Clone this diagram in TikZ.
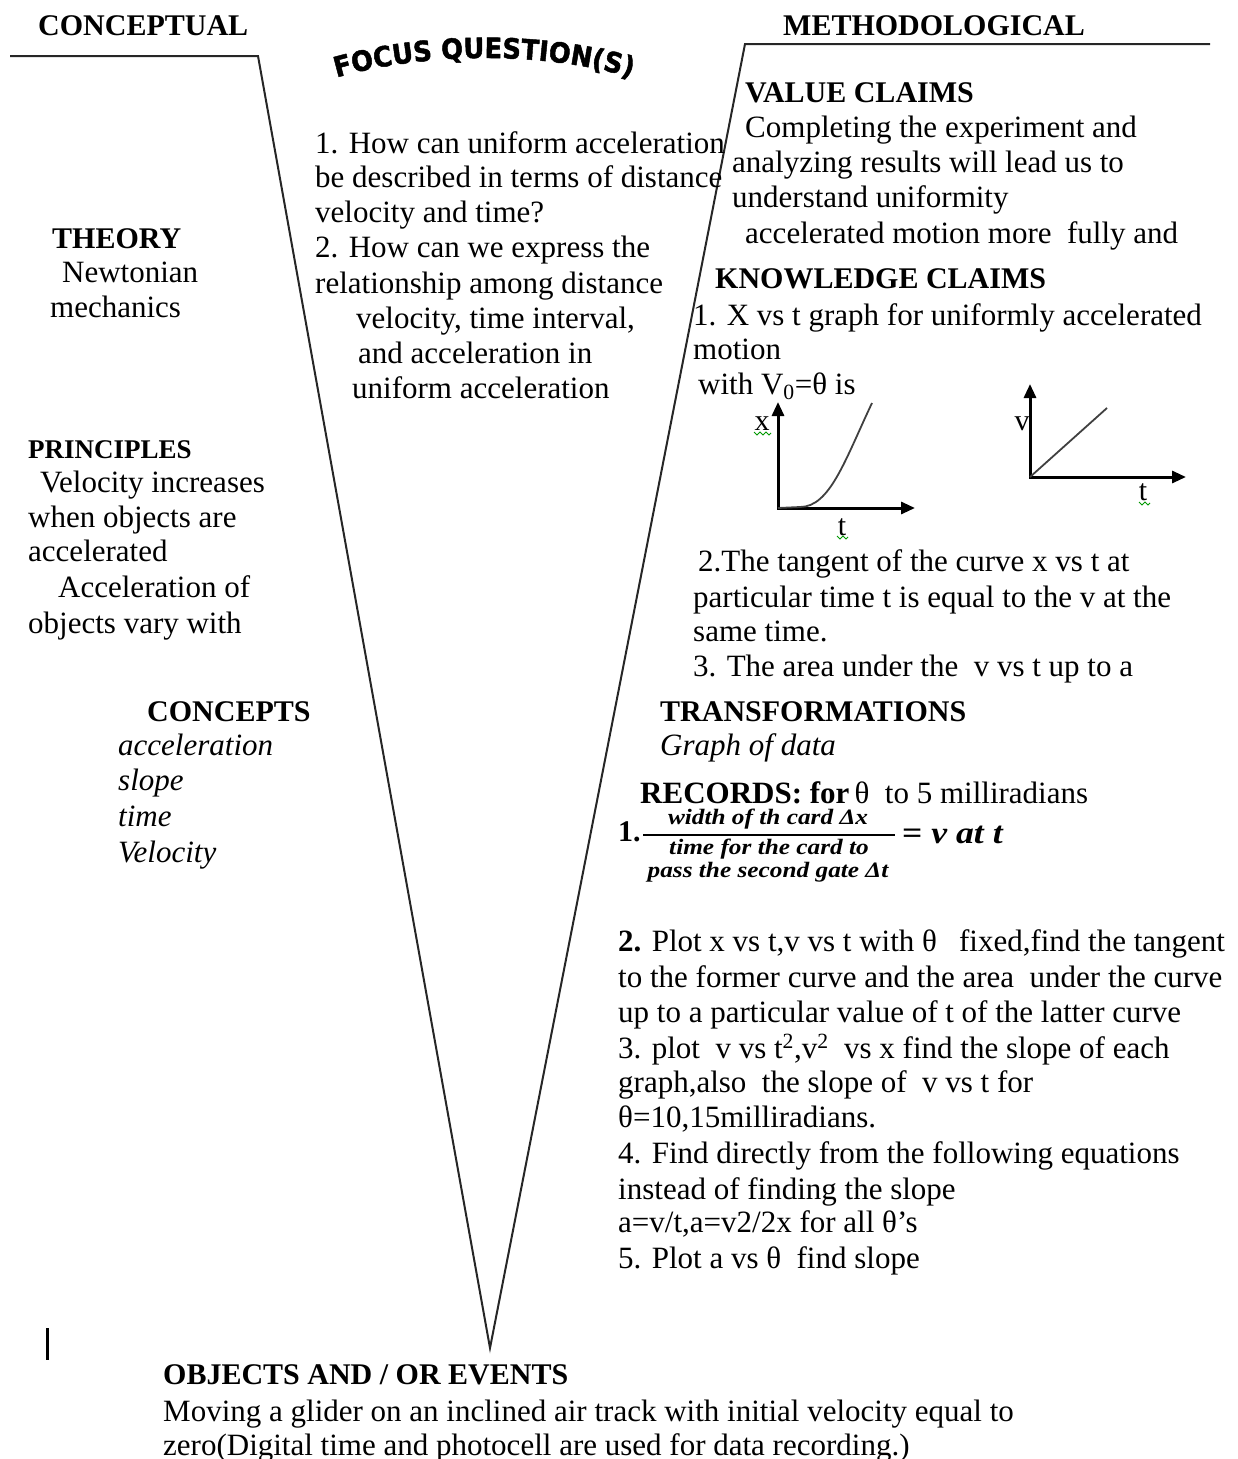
\documentclass[tikz,border=0pt]{standalone}
\usepackage{fontspec}
\setmainfont{Liberation Serif}
\newfontfamily\mathish{Liberation Serif}[FakeStretch=1.15]
\newfontfamily\focusfont{DejaVu Sans}[FakeStretch=0.92, BoldFeatures={FakeBold=1.6}]
\usetikzlibrary{arrows.meta,decorations.text}
\begin{document}
\begin{tikzpicture}[x=1pt,y=-1pt,
  body/.style={anchor=base west, inner sep=0pt, font=\fontsize{31}{35}\selectfont},
  head/.style={anchor=base west, inner sep=0pt, font=\fontsize{30}{35}\selectfont\bfseries},
  ital/.style={anchor=base west, inner sep=0pt, font=\fontsize{31}{35}\selectfont\itshape},
  lbl/.style={inner sep=0pt, font=\fontsize{30}{35}\selectfont},
  vline/.style={line width=2pt, draw=black!85},
  axis/.style={line width=3pt, -{Triangle[length=14pt,width=12pt]}},
  curve/.style={line width=1.8pt, draw=black!75},
  squig/.style={draw=green!60!black, line width=1pt},
  fracpart/.style={inner sep=0pt, font=\mathish\fontsize{22}{26}\selectfont\bfseries\itshape},
]
\useasboundingbox (0,0) rectangle (1238,1459);
\clip (0,0) rectangle (1238,1459);

% ---- the V ----
\coordinate (lend) at (10,56);
\coordinate (lcorner) at (258,56);
\coordinate (vtip) at (490,1348);
\coordinate (rcorner) at (745,44);
\coordinate (rend) at (1210,44);
\draw[vline] (lend) -- (lcorner) -- (vtip) -- (rcorner) -- (rend);

% ---- top titles ----
\node[head] (conceptual) at (38,35) {CONCEPTUAL};
\node[head] (methodological) at (783,35) {METHODOLOGICAL};
\path[decorate, decoration={text along path, text align=center,
  text={|\focusfont\bfseries\fontsize{28}{28}\selectfont|FOCUS QUESTION(S)}}]
  (322,82) .. controls (420,50) and (550,50) .. (646,82);

% ---- left side ----
\node[head] (theory) at (52,248) {THEORY};
\node[body] (th1) at (62,282) {Newtonian};
\node[body] (th2) at (50,317) {mechanics};
\node[head, font=\fontsize{27}{35}\selectfont\bfseries] (principles) at (28,458) {PRINCIPLES};
\node[body] (pr1) at (40,492) {Velocity increases};
\node[body] (pr2) at (28,527) {when objects are};
\node[body] (pr3) at (28,561) {accelerated};
\node[body] (pr4) at (58,597) {Acceleration of};
\node[body] (pr5) at (28,633) {objects vary with};
\node[head] (concepts) at (147,721) {CONCEPTS};
\node[ital] (co1) at (118,755) {acceleration};
\node[ital] (co2) at (118,790) {slope};
\node[ital] (co3) at (118,826) {time};
\node[ital] (co4) at (118,862) {Velocity};

% ---- focus questions ----
\node[body] (fq1) at (315,153) {1. How can uniform acceleration};
\node[body] (fq2) at (315,187) {be described in terms of distance};
\node[body] (fq3) at (315,222) {velocity and time?};
\node[body] (fq4) at (315,257) {2. How can we express the};
\node[body] (fq5) at (315,293) {relationship among distance};
\node[body] (fq6) at (356,328) {velocity, time interval,};
\node[body] (fq7) at (358,363) {and acceleration in};
\node[body] (fq8) at (352,398) {uniform acceleration};

% ---- value / knowledge claims ----
\node[head] (value) at (745,102) {VALUE CLAIMS};
\node[body] (va1) at (745,137) {Completing the experiment and};
\node[body] (va2) at (732,172) {analyzing results will lead us to};
\node[body] (va3) at (732,207) {understand uniformity};
\node[body] (va4) at (745,243) {accelerated motion more\ \ fully and};
\node[head] (knowledge) at (715,288) {KNOWLEDGE CLAIMS};
\node[body] (kn1) at (693,325) {1. X vs t graph for uniformly accelerated};
\node[body] (kn2) at (693,359) {motion};
\node[body] (kn3) at (698,394) {with V\textsubscript{0}=θ is};

% graph x vs t
\coordinate (g1o) at (778,508);
\coordinate (g1y) at (778,402);
\coordinate (g1x) at (915,508);
\draw[axis] (778,509.5) -- (g1y);
\draw[axis] (g1o) -- (g1x);
\draw[curve] (g1o) -- (800,507) .. controls (830,507) and (845,460) .. (872,403);
\node[lbl] (g1xl) at (762,424) {x};
\node[lbl] (g1tl) at (842,527) {t};
\draw[squig] (754,432) -- (757,435) -- (760,432) -- (763,435) -- (766,432) -- (769,435) -- (771,433);
\draw[squig] (837,536) -- (840,539) -- (843,536) -- (846,539) -- (848,537);

% graph v vs t
\coordinate (g2o) at (1030,477);
\coordinate (g2y) at (1030,384);
\coordinate (g2x) at (1186,477);
\coordinate (g2e) at (1107,408);
\draw[axis] (1030,478.5) -- (g2y);
\draw[axis] (g2o) -- (g2x);
\draw[curve] (g2o) -- (g2e);
\node[lbl] (g2vl) at (1022,424) {v};
\node[lbl] (g2tl) at (1143,492) {t};
\draw[squig] (1139,502) -- (1142,505) -- (1145,502) -- (1148,505) -- (1150,503);

\node[body] (kn4) at (698,571) {2.The tangent of the curve x vs t at};
\node[body] (kn5) at (693,607) {particular time t is equal to the v at the};
\node[body] (kn6) at (693,641) {same time.};
\node[body] (kn7) at (693,676) {3. The area under the\ \ v vs t up to a};

% ---- transformations / records ----
\node[head] (transf) at (660,721) {TRANSFORMATIONS};
\node[ital] (tr1) at (660,755) {Graph of data};
\node[body] (records) at (640,803) {\textbf{RECORDS: for}\,θ\ \ to 5 milliradians};
\node[head] (rec1) at (618,841) {1.};
\node[fracpart] (num) at (768,819) {width of th card Δx};
\coordinate (barl) at (643,835);
\coordinate (barr) at (895,835);
\draw[line width=1.5pt] (barl) -- (barr);
\node[fracpart] (den1) at (769,849) {time for the card to};
\node[fracpart] (den2) at (768,872) {pass the second gate Δt};
\node[fracpart, anchor=base west, font=\mathish\fontsize{31}{35}\selectfont\bfseries\itshape] (eqv) at (902,843) {\upshape=\itshape\ v at t};

\node[body] (b1) at (618,951) {\textbf{2.} Plot x vs t,v vs t with θ\hspace{22pt}fixed,find the tangent};
\node[body] (b2) at (618,987) {to the former curve and the area\ \ under the curve};
\node[body] (b3) at (618,1022) {up to a particular value of t of the latter curve};
\node[body] (b4) at (618,1058) {3. plot\ \ v vs t\textsuperscript{2},v\textsuperscript{2}\ \ vs x find the slope of each};
\node[body] (b5) at (618,1092) {graph,also\ \ the slope of\ \ v vs t for};
\node[body] (b6) at (618,1127) {θ=10,15milliradians.};
\node[body] (b7) at (618,1163) {4. Find directly from the following equations};
\node[body] (b8) at (618,1199) {instead of finding the slope};
\node[body] (b9) at (618,1232) {a=v/t,a=v2/2x for all θ’s};
\node[body] (b10) at (618,1268) {5. Plot a vs θ\ \ find slope};

% ---- cursor mark ----
\coordinate (cur1) at (47,1328);
\coordinate (cur2) at (47,1360);
\draw[line width=3pt] (cur1) -- (cur2);

% ---- objects and events ----
\node[head] (objects) at (163,1384) {OBJECTS AND / OR EVENTS};
\node[body] (ob1) at (163,1421) {Moving a glider on an inclined air track with initial velocity equal to};
\node[body] (ob2) at (163,1455) {zero(Digital time and photocell are used for data recording.)};
\end{tikzpicture}
\end{document}
